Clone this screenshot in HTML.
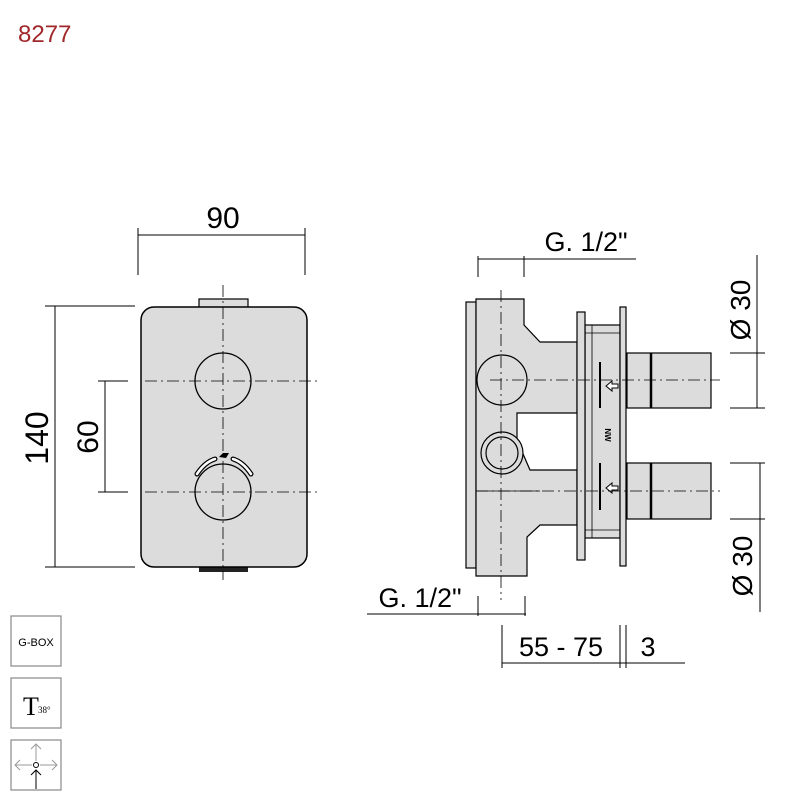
<!DOCTYPE html>
<html><head><style>html,body{margin:0;padding:0;background:#fff}svg{display:block}</style></head>
<body>
<svg width="800" height="800" viewBox="0 0 800 800" xmlns="http://www.w3.org/2000/svg" font-family="Liberation Sans, sans-serif">
<text x="18" y="42" font-size="24" fill="#a0282a">8277</text>

<!-- FRONT VIEW -->
<g stroke="#000" stroke-width="1" fill="none">
  <line x1="138" y1="235" x2="305" y2="235"/>
  <line x1="138" y1="228" x2="138" y2="275"/>
  <line x1="305" y1="228" x2="305" y2="275"/>
  <line x1="55" y1="306" x2="55" y2="567"/>
  <line x1="45" y1="306" x2="135" y2="306"/>
  <line x1="45" y1="567" x2="135" y2="567"/>
  <line x1="105" y1="381" x2="105" y2="492"/>
  <line x1="98" y1="381" x2="128" y2="381"/>
  <line x1="98" y1="492" x2="128" y2="492"/>
</g>
<text x="223" y="228" font-size="30" text-anchor="middle">90</text>
<text transform="translate(48,438) rotate(-90)" font-size="32" text-anchor="middle">140</text>
<text transform="translate(98,437) rotate(-90)" font-size="30" text-anchor="middle">60</text>

<rect x="199" y="299" width="49" height="9" fill="#ddd" stroke="#000" stroke-width="1.2"/>
<rect x="199" y="566" width="49" height="6" fill="#222"/>
<rect x="141" y="307" width="166" height="260" rx="13" fill="#dcdcdc" stroke="#000" stroke-width="1.5"/>
<circle cx="223" cy="381" r="28" fill="none" stroke="#000" stroke-width="1.3"/>
<circle cx="223" cy="492" r="28" fill="none" stroke="#000" stroke-width="1.3"/>
<path d="M197 474 Q205 462 215 459" stroke="#000" stroke-width="5" fill="none" stroke-linecap="round"/>
<path d="M197 474 Q205 462 215 459" stroke="#fff" stroke-width="2.5" fill="none" stroke-linecap="round"/>
<path d="M233 459 Q243 462 251 474" stroke="#000" stroke-width="5" fill="none" stroke-linecap="round"/>
<path d="M233 459 Q243 462 251 474" stroke="#fff" stroke-width="2.5" fill="none" stroke-linecap="round"/>
<path d="M219 457 l4 -4 h6 l-3 5 z" fill="#000"/>
<g stroke="#000" stroke-width="0.8" stroke-dasharray="12,4,2,4" fill="none">
  <line x1="223" y1="285" x2="223" y2="580"/>
  <line x1="145" y1="381" x2="320" y2="381"/>
  <line x1="145" y1="492" x2="320" y2="492"/>
</g>

<!-- SIDE VIEW -->
<g stroke="#000" stroke-width="1" fill="none">
  <line x1="478" y1="259" x2="636" y2="259"/>
  <line x1="478" y1="256" x2="478" y2="277"/>
  <line x1="524" y1="256" x2="524" y2="277"/>
  <line x1="757" y1="255" x2="757" y2="408"/>
  <line x1="730" y1="353" x2="765" y2="353"/>
  <line x1="730" y1="408" x2="765" y2="408"/>
  <line x1="730" y1="463" x2="765" y2="463"/>
  <line x1="730" y1="519" x2="765" y2="519"/>
  <line x1="760" y1="463" x2="760" y2="612"/>
  <line x1="367" y1="614" x2="526" y2="614"/>
  <line x1="478" y1="596" x2="478" y2="616"/>
  <line x1="525" y1="596" x2="525" y2="616"/>
  <line x1="502" y1="663" x2="685" y2="663"/>
  <line x1="502" y1="625" x2="502" y2="668"/>
  <line x1="620" y1="625" x2="620" y2="668"/>
  <line x1="626" y1="625" x2="626" y2="668"/>
</g>
<text x="586" y="251" font-size="27" text-anchor="middle">G. 1/2"</text>
<text transform="translate(750,310) rotate(-90)" font-size="28" text-anchor="middle">Ø 30</text>
<text transform="translate(752,566) rotate(-90)" font-size="28" text-anchor="middle">Ø 30</text>
<text x="420" y="607" font-size="27" text-anchor="middle">G. 1/2"</text>
<text x="561" y="656" font-size="27" text-anchor="middle">55 - 75</text>
<text x="648" y="656" font-size="27" text-anchor="middle">3</text>

<g stroke="#000" stroke-width="1.2" fill="#dcdcdc">
  <rect x="466" y="302" width="10" height="266"/>
  <path d="M476 299 H524 V325 L540 342 H577 V413 H517 V440 L530 470 H577 V525 H540 L527 537 V576 H476 Z"/>
  <circle cx="502" cy="380" r="25"/>
  <circle cx="502" cy="453" r="21"/>
  <circle cx="502" cy="453" r="16"/>
  <rect x="585" y="325" width="35" height="213"/>
  <rect x="577" y="312" width="8" height="248"/>
  <rect x="620" y="307" width="6" height="259"/>
  <rect x="627" y="353" width="84" height="55"/>
  <rect x="627" y="463" width="84" height="56"/>
</g>
<g stroke="#000" fill="none">
  <line x1="651" y1="353" x2="651" y2="408" stroke-width="2.5"/>
  <line x1="651" y1="463" x2="651" y2="519" stroke-width="2.5"/>
  <line x1="600" y1="362" x2="600" y2="408" stroke-width="2"/>
  <line x1="600" y1="463" x2="600" y2="510" stroke-width="2"/>
  <line x1="592" y1="325" x2="592" y2="538" stroke-width="0.8"/>
  <line x1="585" y1="333" x2="620" y2="333" stroke-width="0.8"/>
  <line x1="585" y1="530" x2="620" y2="530" stroke-width="0.8"/>
  <path d="M606 386 l6 -5 v3 h6 v4 h-6 v3 z" fill="#fff" stroke-width="1"/>
  <path d="M606 488 l6 -5 v3 h6 v4 h-6 v3 z" fill="#fff" stroke-width="1"/>
  <line x1="476" y1="491" x2="540" y2="491" stroke-width="0.8"/>
</g>
<text transform="translate(605,435) rotate(90)" font-size="8" font-weight="bold" text-anchor="middle">NW</text>
<g stroke="#000" stroke-width="0.8" stroke-dasharray="12,4,2,4" fill="none">
  <line x1="501" y1="290" x2="501" y2="600"/>
  <line x1="490" y1="380" x2="720" y2="380"/>
  <line x1="476" y1="491" x2="720" y2="491"/>
</g>

<!-- ICONS -->
<g stroke="#888" stroke-width="1.2" fill="#fff">
  <rect x="11" y="616" width="50" height="50"/>
  <rect x="11" y="678" width="50" height="50"/>
  <rect x="11" y="740" width="50" height="50"/>
</g>
<text x="36" y="646" font-size="11" text-anchor="middle">G-BOX</text>
<text x="23" y="715" font-size="26" font-family="Liberation Serif, serif">T</text>
<text x="38" y="713" font-size="9" font-family="Liberation Serif, serif">38°</text>
<g stroke="#999" stroke-width="1" fill="none">
  <line x1="36" y1="744" x2="36" y2="761"/>
  <line x1="15" y1="765" x2="32" y2="765"/>
  <line x1="40" y1="765" x2="57" y2="765"/>
  <path d="M31 749 L36 744 L41 749"/>
  <path d="M20 760 L15 765 L20 770"/>
  <path d="M52 760 L57 765 L52 770"/>
</g>
<circle cx="36" cy="765" r="2.5" fill="none" stroke="#000"/>
<line x1="36" y1="770" x2="36" y2="789" stroke="#000"/>
<path d="M31 775 L36 770 L41 775" stroke="#000" fill="none"/>
</svg>
</body></html>
